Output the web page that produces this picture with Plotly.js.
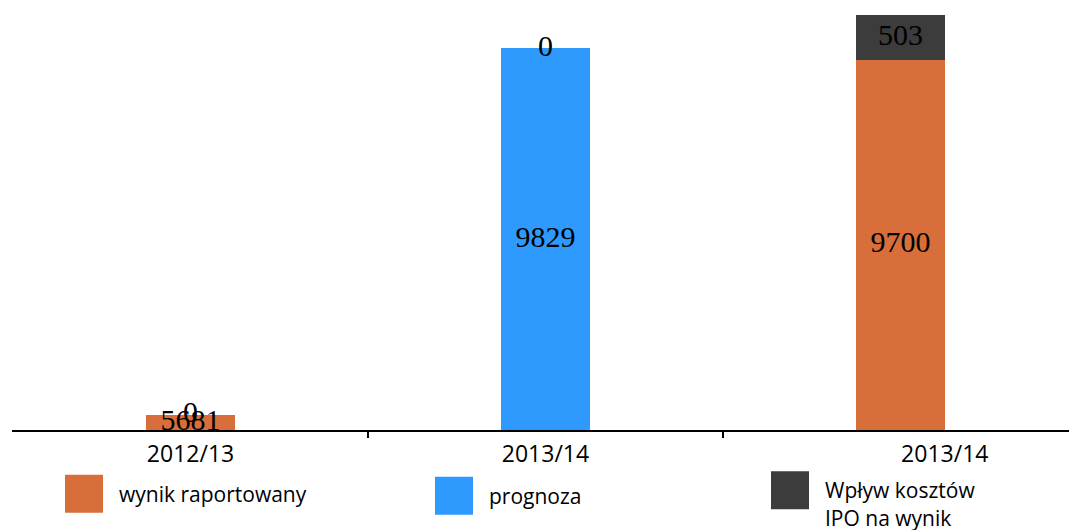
<!DOCTYPE html>
<html>
<head>
<meta charset="utf-8">
<script src="https://cdn.plot.ly/plotly-3.0.1.min.js"></script>
<style>html,body{margin:0;padding:0;background:#fff;}#chart{width:1069px;height:530px;}</style>
</head>
<body>
<div id="chart"></div>
<script>
// ---- data ----
const xPos = [0, 1, 2];
const tickLabels = ['2012/13', '2013/14', '2013/14'];
const tickLabelPos = [0, 1, 2.125];     // the last category label sits right of its bar in the original
const reported = [5681, null, 9700];   // wynik raportowany
const forecast = [null, 9829, null];   // prognoza
const ipoImpact = [0, 0, 503];         // Wpływ kosztów IPO na wynik
const seriesNames = ['wynik raportowany', 'prognoza', 'Wpływ kosztów<br>IPO na wynik'];
const seriesColors = ['#D86E3A', '#2E9AFE', '#3C3C3C'];

// ---- axis range (chart starts above zero, as in the original) ----
const yRange = [5511, 10373];
const xRange = [-0.503, 2.475];

const stack = [reported, forecast, ipoImpact];

// value labels centred in the visible part of each segment
const lblX = [], lblY = [], lblT = [];
xPos.forEach((x, i) => {
  let base = 0;
  stack.forEach(s => {
    const v = s[i];
    if (v === null || v === undefined) return;
    const lo = Math.max(base, yRange[0]);
    const hi = base + v;
    lblX.push(x);
    lblY.push((lo + hi) / 2);
    lblT.push(String(v));
    base += v;
  });
});

const legendFont = {family: 'Open Sans', size: 21, color: '#000'};
const traces = stack.map((s, k) => ({
  type: 'bar',
  x: xPos,
  y: s,
  name: seriesNames[k],
  marker: {color: seriesColors[k], line: {width: 0}},
  width: 0.25,
  legend: k === 0 ? 'legend' : 'legend' + (k + 1),
  hoverinfo: 'skip'
}));
traces.push({
  type: 'scatter',
  mode: 'text',
  x: lblX,
  y: lblY,
  text: lblT,
  xaxis: 'x2',
  textposition: 'middle center',
  textfont: {family: 'Liberation Serif', size: 30, color: '#000'},
  cliponaxis: false,
  showlegend: false,
  hoverinfo: 'skip'
});

function legendAt(px, py, valign) {
  return {
    x: px / 1069, xref: 'container', xanchor: 'left',
    y: 1 - py / 530, yref: 'container', yanchor: 'top',
    font: legendFont, bgcolor: 'rgba(0,0,0,0)', borderwidth: 0,
    itemwidth: 60, valign: valign || 'middle', orientation: 'v'
  };
}

const layout = {
  width: 1069, height: 530,
  margin: {l: 12, r: 0, t: 0, b: 100, pad: 0, autoexpand: false},
  paper_bgcolor: '#fff', plot_bgcolor: '#fff',
  barmode: 'stack',
  bargap: 0.75,
  xaxis: {
    range: xRange, tickmode: 'array', tickvals: tickLabelPos, ticktext: tickLabels,
    ticks: '', showline: true, linecolor: '#000', linewidth: 2,
    showgrid: false, zeroline: false, tickangle: 0, automargin: false,
    tickfont: {family: 'Open Sans', size: 23, color: '#000'},
    ticklabelstandoff: 2, fixedrange: true
  },
  xaxis2: {
    overlaying: 'x', anchor: 'y', side: 'bottom', range: xRange,
    tickmode: 'array', tickvals: [0.5, 1.5], ticks: 'outside', ticklen: 7,
    tickwidth: 2, tickcolor: '#000', showticklabels: false, automargin: false,
    showline: false, showgrid: false, zeroline: false, fixedrange: true
  },
  yaxis: {
    range: yRange, visible: false, showgrid: false, zeroline: false, fixedrange: true, automargin: false
  },
  showlegend: true,
  legend: legendAt(49, 473.5),
  legend2: legendAt(419, 475.5),
  legend3: legendAt(755, 470, 'top')
};

function fixLegends() {
  document.querySelectorAll('.scrollbox').forEach(s => s.removeAttribute('clip-path'));
  document.querySelectorAll('.legendpoints path').forEach(p => {
    p.setAttribute('d', 'M19,19H-19V-19H19Z');
  });
}
Plotly.newPlot('chart', traces, layout, {displayModeBar: false, staticPlot: true}).then(() => {
  fixLegends();
  setTimeout(fixLegends, 50);
  setTimeout(fixLegends, 300);
});
</script>
</body>
</html>
